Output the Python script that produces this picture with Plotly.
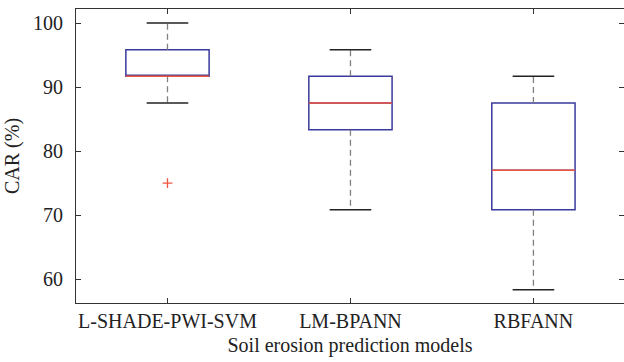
import plotly.graph_objects as go

models = ["L-SHADE-PWI-SVM", "LM-BPANN", "RBFANN"]
positions = [1, 2, 3]
q1 = [91.67, 83.33, 70.83]
median = [91.67, 87.5, 77.0]
q3 = [95.83, 91.67, 87.5]
lower_whisker = [87.5, 70.83, 58.33]
upper_whisker = [100.0, 95.83, 91.67]
outlier_x = [1]
outlier_y = [75.0]

BOX_W = 0.455
CAP_W = BOX_W / 2
BLUE = "#3a3a9c"
RED = "#f0553f"
FONT = "Liberation Serif"
FS = 20

fig = go.Figure()

for p, a, m, b in zip(positions, q1, median, q3):
    fig.add_trace(go.Box(
        x=[p], q1=[a], median=[m], q3=[b], lowerfence=[a], upperfence=[b],
        width=BOX_W, whiskerwidth=0, boxpoints=False,
        line=dict(color=BLUE, width=1.5), fillcolor="rgba(0,0,0,0)",
        showlegend=False, hoverinfo="skip",
    ))

# dashed whiskers
wx, wy = [], []
for p, a, b, lo, hi in zip(positions, q1, q3, lower_whisker, upper_whisker):
    wx += [p, p, None, p, p, None]
    wy += [b, hi, None, a, lo, None]
fig.add_trace(go.Scatter(x=wx, y=wy, mode="lines",
                         line=dict(color="#808080", width=1.3, dash="6px,4px"),
                         showlegend=False, hoverinfo="skip"))

# caps
cx, cy = [], []
for p, lo, hi in zip(positions, lower_whisker, upper_whisker):
    cx += [p - CAP_W / 2, p + CAP_W / 2, None, p - CAP_W / 2, p + CAP_W / 2, None]
    cy += [hi, hi, None, lo, lo, None]
fig.add_trace(go.Scatter(x=cx, y=cy, mode="lines",
                         line=dict(color="#222222", width=1.5),
                         showlegend=False, hoverinfo="skip"))

# medians
mx, my = [], []
for p, m in zip(positions, median):
    mx += [p - BOX_W / 2, p + BOX_W / 2, None]
    my += [m, m, None]
fig.add_trace(go.Scatter(x=mx, y=my, mode="lines",
                         line=dict(color=RED, width=1.5),
                         showlegend=False, hoverinfo="skip"))

# outliers
fig.add_trace(go.Scatter(x=outlier_x, y=outlier_y, mode="markers",
                         marker=dict(symbol="cross-thin", size=7,
                                     line=dict(color=RED, width=1.3)),
                         showlegend=False, hoverinfo="skip"))

fig.update_layout(
    width=624, height=362,
    margin=dict(l=76, r=0, t=9, b=59),
    plot_bgcolor="white", paper_bgcolor="white",
    font=dict(family=FONT, size=FS, color="#222222"),
)
fig.update_xaxes(
    range=[0.5, 3.495], tickvals=positions, ticktext=models,
    showline=True, linecolor="#333333", linewidth=1.2, mirror="ticks",
    ticks="inside", ticklen=5, tickcolor="#333333", tickwidth=1,
    showgrid=False, zeroline=False,
    title=dict(text="Soil erosion prediction models", standoff=6,
               font=dict(size=FS)),
    tickfont=dict(size=FS),
)
fig.update_yaxes(
    range=[56.25, 102.2], tickvals=[60, 70, 80, 90, 100],
    showline=True, linecolor="#333333", linewidth=1.2, mirror="ticks",
    ticks="inside", ticklen=5, tickcolor="#333333", tickwidth=1,
    showgrid=False, zeroline=False,
    title=dict(text="CAR (%)", standoff=7, font=dict(size=FS)),
    tickfont=dict(size=FS), ticklabelstandoff=8,
)

fig.write_html("out.html")
